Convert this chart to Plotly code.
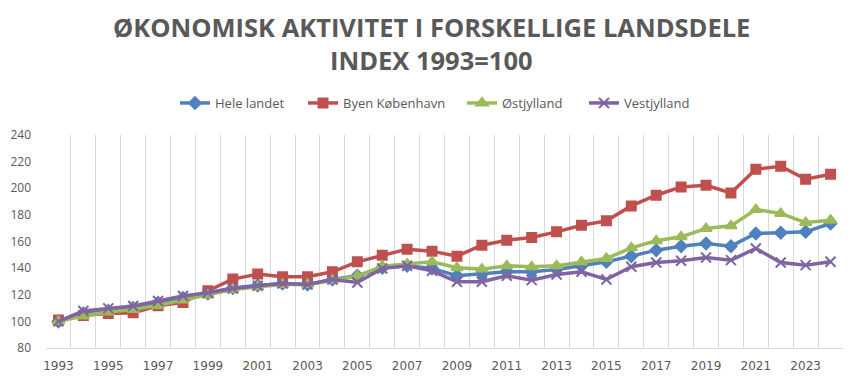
import plotly.graph_objects as go

years = list(range(1993, 2025))
hele_landet = [100, 106, 108, 110, 114, 117.5, 121, 125, 127, 128.5,
               127.75, 131.5, 134.25, 140.25, 141.75, 139.75, 134.25, 135.5, 137.25, 137.25,
               139, 141.75, 144.75, 149, 153.5, 156.5, 158.5, 156.5, 166, 166.5, 167.25, 173.5]
byen_kbh = [101, 104.5, 106, 106.5, 111.75, 114.25, 123, 131.75, 135.5, 133.5,
            133.5, 137.25, 144.75, 149.75, 154.25, 152.75, 149, 157.25, 161, 163,
            167.25, 172.25, 175.5, 186.75, 194.75, 201, 202.25, 196.5, 214.25, 216.5, 206.75, 210.5]
oestjylland = [100, 104, 107, 109, 112, 116, 119.75, 124, 126, 127.75,
               127.75, 131, 134, 141.5, 143, 144.75, 140.25, 139.25, 141.75, 141,
               141.75, 144.75, 147.25, 155.25, 160.5, 163.5, 169.75, 171.75, 184, 181, 174.25, 176]
vestjylland = [100, 107.75, 109.75, 111.5, 115.25, 119, 121.5, 124.75, 126.75, 128.5,
               127.75, 131.5, 129.25, 139.75, 141.75, 138, 129.75, 129.75, 134.25, 131,
               135.25, 137.25, 131.5, 141, 144.25, 145.5, 148, 146, 154.75, 144.25, 142.25, 144.75]
x_ticks = list(range(1993, 2025, 2))
y_ticks = list(range(80, 241, 20))
title_lines = ["ØKONOMISK AKTIVITET I FORSKELLIGE LANDSDELE", "INDEX 1993=100"]

# page body has an 8px margin: figure is offset by (8, 8) in the screenshot
PL, PR, PT, PB = 46, 843, 135, 348  # plot area in screen pixels


def px_x(X):
    return (X - PL) / (PR - PL)


def px_y(Y):
    return (PB - Y) / (PB - PT)


series = [
    ("Hele landet", hele_landet, "#4F81BD", "diamond", 9, 175),
    ("Byen København", byen_kbh, "#C0504D", "square", 9, 303),
    ("Østjylland", oestjylland, "#9BBB59", "triangle-up", 10, 462),
    ("Vestjylland", vestjylland, "#8064A2", "x-thin", 10, 584),
]

grey = "#595959"
fig = go.Figure()
legends = {}
for i, (name, vals, color, sym, size, lx) in enumerate(series):
    key = "legend" if i == 0 else f"legend{i + 1}"
    fig.add_trace(go.Scatter(
        x=years, y=vals, name=name, mode="lines+markers",
        line=dict(color=color, width=3.5),
        marker=dict(symbol=sym, size=size, color=color,
                    line=dict(color=color, width=2)),
        legend=key,
    ))
    legends[key] = dict(orientation="h", x=px_x(lx), xanchor="left",
                        y=px_y(103), yanchor="middle", bgcolor="rgba(0,0,0,0)",
                        font=dict(size=13, color=grey, family="Open Sans"),
                        itemwidth=30)

fig.update_layout(
    width=854, height=375,
    margin=dict(l=PL - 8, r=862 - PR, t=PT - 8, b=383 - PB, autoexpand=False),
    paper_bgcolor="white", plot_bgcolor="white",
    font=dict(family="Open Sans, DejaVu Sans, sans-serif", color=grey),
    showlegend=True,
    xaxis=dict(range=[1992.5, 2024.5], tickvals=x_ticks, ticktext=[str(v) for v in x_ticks],
               showgrid=False, showline=True, linecolor="#d9d9d9", linewidth=1,
               ticks="", ticklabelstandoff=7,
               tickfont=dict(family="DejaVu Sans", size=12, color=grey),
               minor=dict(tick0=1992.5, dtick=1, showgrid=True, gridcolor="#d9d9d9", gridwidth=1),
               zeroline=False, fixedrange=True),
    yaxis=dict(range=[80, 240], tickvals=y_ticks, showgrid=False, zeroline=False,
               showline=False, ticks="", ticklabelstandoff=14,
               tickfont=dict(size=12, color=grey, family="Open Sans"), fixedrange=True),
    annotations=[
        dict(text=f"<b>{title_lines[0]}</b>", xref="paper", yref="paper",
             x=px_x(431.5), y=px_y(27), xanchor="center", yanchor="middle", showarrow=False,
             font=dict(size=25.5, color=grey, family="Open Sans, sans-serif")),
        dict(text=f"<b>{title_lines[1]}</b>", xref="paper", yref="paper",
             x=px_x(431.5), y=px_y(60), xanchor="center", yanchor="middle", showarrow=False,
             font=dict(size=25.5, color=grey, family="Open Sans, sans-serif")),
    ],
    **legends,
)

fig.write_html("out.html")
